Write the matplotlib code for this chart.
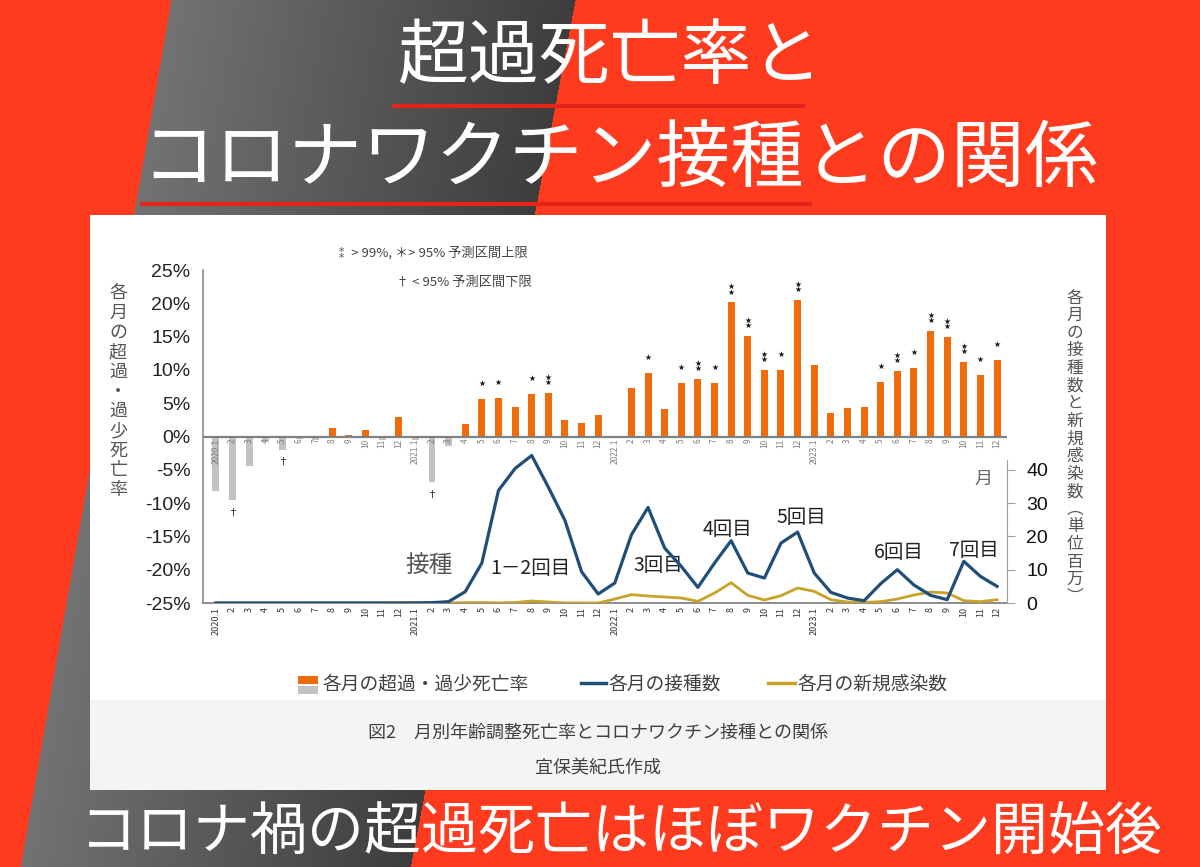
import numpy as np
import matplotlib
matplotlib.use("Agg")
import matplotlib.pyplot as plt
from matplotlib.patches import Rectangle

plt.rcParams['font.family'] = ['Noto Sans CJK JP', 'DejaVu Sans']

# 2020.1 - 2023.12
years = [2020, 2021, 2022, 2023]
month_labels = [f"{y}.{m}" if m == 1 else str(m) for y in years for m in range(1, 13)]

# excess / deficit mortality (%)
excess = [
    -8.25, -9.6, -4.5, -0.8, -2.0, -0.4, -0.5, 1.35, 0.2, 1.0, -0.5, 3.0,
    -0.6, -6.9, -1.5, 1.85, 5.65, 5.75, 4.4, 6.35, 6.6, 2.55, 2.05, 3.3,
    -0.3, 7.35, 9.5, 4.15, 8.0, 8.65, 8.1, 20.15, 15.15, 10.05, 10.05, 20.55,
    10.7, 3.5, 4.3, 4.4, 8.2, 9.85, 10.3, 15.9, 14.95, 11.2, 9.3, 11.55,
]
# vaccinations per month (millions)
vaccinations = [
    0, 0, 0, 0, 0, 0, 0, 0, 0, 0, 0, 0,
    0, 0.1, 0.4, 3.4, 12, 33.8, 40.4, 44.3, 34.8, 24.8, 9.4, 2.7,
    6, 20.5, 28.7, 16.5, 11, 4.7, 12, 18.7, 9, 7.5, 18, 21.3,
    9, 3.2, 1.5, 0.7, 5.8, 10, 5.4, 2.3, 1.0, 12.5, 8, 5,
]
# new infections per month (millions)
infections = [
    0, 0, 0, 0.01, 0, 0, 0.02, 0.03, 0.02, 0.02, 0.05, 0.1,
    0.15, 0.04, 0.04, 0.1, 0.15, 0.05, 0.15, 0.6, 0.3, 0.02, 0.01, 0.01,
    1.2, 2.5, 2.1, 1.8, 1.5, 0.5, 3.0, 6.1, 2.3, 0.9, 2.2, 4.5,
    3.5, 1.0, 0.3, 0.2, 0.4, 1.2, 2.4, 3.3, 3.0, 0.7, 0.4, 1.0,
]
# significance marks: 2 = >99%, 1 = >95% upper bound
upper_marks = {16: 1, 17: 1, 19: 1, 20: 2, 26: 1, 28: 1, 29: 2, 30: 1, 31: 2,
               32: 2, 33: 2, 34: 1, 35: 2, 40: 1, 41: 2, 42: 1, 43: 2, 44: 2,
               45: 2, 46: 1, 47: 1}
lower_marks = [1, 4, 13]

dose_labels = ["1－2回目", "3回目", "4回目", "5回目", "6回目", "7回目"]
dose_pos = [(18.9, 10.5), (26.6, 11.4), (30.8, 22), (35.2, 25.7), (41.1, 15.3), (45.6, 15.8)]

orange = '#f26b0a'
grey_bar = '#c2c2c2'
navy = '#1f4e79'
mustard = '#c9a227'
red_bg = np.array([254, 59, 31]) / 255

W, H = 1200, 867
fig = plt.figure(figsize=(12, 8.67), dpi=100)

# ---- background -------------------------------------------------------
bg = fig.add_axes([0, 0, 1, 1])
bg.set_zorder(0)
yy, xx = np.mgrid[0:H, 0:W]
xl = 171 - 0.174 * yy
xr = 575 - 0.19 * yy
t = (xx - xl) / (xr - xl)
inside = (t >= 0) & (t <= 1)
img = np.ones((H, W, 3)) * red_bg
g = 0.45 - 0.21 * np.clip(t, 0, 1)
img[inside] = np.stack([g, g, g], axis=-1)[inside]
bg.imshow(img, extent=(0, W, H, 0), aspect='auto', interpolation='bilinear')
bg.set_xlim(0, W)
bg.set_ylim(H, 0)
bg.axis('off')

bg.add_patch(Rectangle((90, 215), 1016, 485, fc='white', ec='none', zorder=1))
bg.add_patch(Rectangle((90, 700), 1016, 90, fc='#f4f4f4', ec='none', zorder=1))

bg.text(610, 58, '超過死亡率と', color='white', fontsize=51, ha='center', va='center', zorder=3)
bg.plot([394, 803], [106, 106], color='#e2241a', lw=3, zorder=3)
bg.text(620, 160, 'コロナワクチン接種との関係', color='white', fontsize=53, ha='center', va='center', zorder=3)
bg.plot([142, 810], [204, 204], color='#e2241a', lw=3, zorder=3)
bg.text(80, 834, 'コロナ禍の超過死亡はほぼワクチン開始後', color='white', fontsize=41,
        ha='left', va='center', zorder=3)

# vertical axis titles
left_title = '各月の超過・過少死亡率'
for k, ch in enumerate(left_title):
    bg.text(118, 293 + k * 19.7, ch, fontsize=13, color='#555555', ha='center', va='center', zorder=3)
right_title = '各月の接種数と新規感染数︵単位百万︶'
for k, ch in enumerate(right_title):
    bg.text(1075, 298 + k * 17.6, ch, fontsize=12, color='#555555', ha='center', va='center', zorder=3)

bg.text(335, 253, '⁑ > 99%, ＊> 95% 予測区間上限', fontsize=9.5, color='#444444', va='center', zorder=3)
bg.text(396, 282, '† < 95% 予測区間下限', fontsize=9.5, color='#444444', va='center', zorder=3)

# legend
bg.add_patch(Rectangle((298, 676), 20, 8, fc=orange, ec='none', zorder=3))
bg.add_patch(Rectangle((298, 686), 20, 8, fc=grey_bar, ec='none', zorder=3))
bg.text(322, 684, '各月の超過・過少死亡率', fontsize=13.5, color='#404040', va='center', zorder=3)
bg.plot([581, 606], [683, 683], color=navy, lw=2.5, zorder=3)
bg.text(608, 684, '各月の接種数', fontsize=13.5, color='#404040', va='center', zorder=3)
bg.plot([768, 795], [683, 683], color=mustard, lw=2.5, zorder=3)
bg.text(797, 684, '各月の新規感染数', fontsize=13.5, color='#404040', va='center', zorder=3)

bg.text(598, 733, '図2　月別年齢調整死亡率とコロナワクチン接種との関係', fontsize=13,
        color='#404040', ha='center', va='center', zorder=3)
bg.text(598, 768, '宜保美紀氏作成', fontsize=13, color='#404040', ha='center', va='center', zorder=3)

# ---- chart ------------------------------------------------------------
ax = fig.add_axes([203 / W, (H - 603) / H, (1007 - 203) / W, (603 - 270) / H])
ax.set_zorder(2)
ax.patch.set_visible(False)
x = np.arange(len(month_labels))
vals = np.array(excess) / 100
colors = [orange if v > 0 else grey_bar for v in vals]
ax.bar(x, vals, width=0.42, color=colors, zorder=2)
ax.axhline(0, color='#808080', lw=1.6, zorder=3)

for i, lab in enumerate(month_labels):
    ax.text(i, -0.003, lab, rotation=90, ha='center', va='top', fontsize=6,
            color='#808080', zorder=4)

for i, n in upper_marks.items():
    v = vals[i]
    offs = [0.024] if n == 1 else [0.016, 0.024]
    for o in offs:
        ax.scatter(i, v + o, marker='*', s=22, color='#1a1a1a', zorder=4, linewidths=0)
for i in lower_marks:
    ax.text(i, vals[i] - 0.018, '†', ha='center', va='center', fontsize=8, color='#333333', zorder=4)

ax.set_xlim(-0.78, 47.6)
ax.set_ylim(-0.25, 0.25)
ax.set_yticks(np.arange(-0.25, 0.26, 0.05))
ax.set_yticklabels([f"{int(round(v * 100))}%" for v in np.arange(-0.25, 0.26, 0.05)])
ax.tick_params(axis='y', length=0, pad=9, labelsize=14, labelcolor='#222222')
for lab in ax.get_yticklabels():
    lab.set_fontfamily(['Liberation Sans', 'DejaVu Sans'])
ax.set_xticks(x)
ax.set_xticklabels(month_labels, rotation=90, fontsize=6.5, color='#333333')
ax.tick_params(axis='x', length=0, pad=3)
for s in ['top', 'right']:
    ax.spines[s].set_visible(False)
ax.spines['left'].set_color('#8c8c8c')
ax.spines['bottom'].set_color('#8c8c8c')
ax.spines['left'].set_linewidth(1.2)
ax.spines['bottom'].set_linewidth(1.4)

ax2 = ax.twinx()
ax2.set_zorder(3)
ax2.plot(x, infections, color=mustard, lw=2.0, zorder=3)
ax2.plot(x, vaccinations, color=navy, lw=2.3, zorder=4)
ax2.set_ylim(0, 100)
ax2.set_yticks([0, 10, 20, 30, 40])
ax2.tick_params(axis='y', length=6, color='#a0a0a0', pad=8, labelsize=14, labelcolor='#111111')
for lab in ax2.get_yticklabels():
    lab.set_fontfamily(['Liberation Sans', 'DejaVu Sans'])
for s in ['top', 'left', 'bottom']:
    ax2.spines[s].set_visible(False)
ax2.spines['right'].set_bounds(0, 43)
ax2.spines['right'].set_color('#a0a0a0')

ax2.text(12.8, 11.4, '接種', fontsize=17, color='#555555', ha='center', va='center')
for lab, (px, py) in zip(dose_labels, dose_pos):
    ax2.text(px, py, lab, fontsize=14, color='#222222', ha='center', va='center')
ax2.text(46.2, 37.4, '月', fontsize=13, color='#666666', ha='center', va='center')

fig.savefig('out.png', dpi=100)
